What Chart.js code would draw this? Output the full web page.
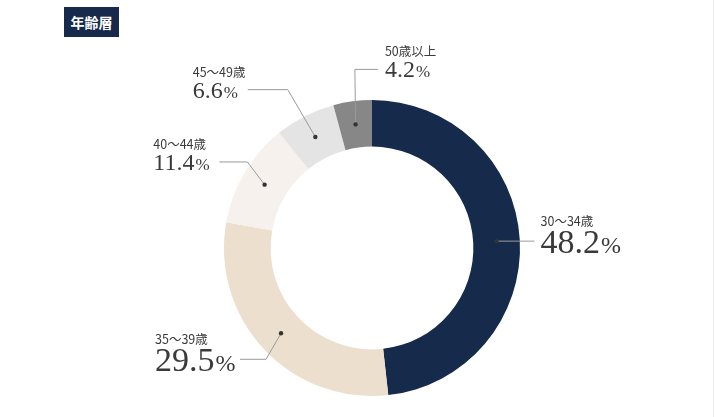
<!DOCTYPE html>
<html lang="ja">
<head>
<meta charset="utf-8">
<script src="https://cdn.jsdelivr.net/npm/chart.js@4.4.1/dist/chart.umd.min.js"></script>
<style>
  html, body { margin: 0; padding: 0; background: #fff; }
  #wrap { position: relative; width: 715px; height: 417px; overflow: hidden; }
  #edge { position: absolute; left: 713px; top: 0; width: 1px; height: 417px; background: #ececec; }
  #title {
    position: absolute; left: 64px; top: 7px; width: 55px; height: 30px;
    background: #172a4b; color: #fff; font: bold 14px "Noto Sans CJK JP", sans-serif;
    line-height: 30px; text-align: center;
  }
  canvas { position: absolute; left: 0; top: 0; }
</style>
</head>
<body>
<div id="wrap">
  <canvas id="ageChart" width="715" height="417"></canvas>
  <div id="title">年齢層</div>
  <div id="edge"></div>
</div>
<script>
// age groups, clockwise from 12 o'clock
const ageLabels = ['30～34歳', '35～39歳', '40～44歳', '45～49歳', '50歳以上'];
const ageShares = [48.2, 29.5, 11.4, 6.6, 4.2];
const ageColors = ['#162a4b', '#ecdfce', '#f6f1ec', '#e4e4e4', '#878787'];

// leader line layout for each label: elbow and end offsets from the dot
const callouts = [
  { elbow: [0, 0],         end: 38,  textDx: 6,   big: true },
  { elbow: [-15, 26],      end: -26, textDx: -85, big: true },
  { elbow: [-17.3, -22.7], end: -28, textDx: -66, big: false },
  { elbow: [-27.6, -47.3], end: -40, textDx: -55, big: false },
  { elbow: [-0.7, -55],    end: 23,  textDx: 7,   big: false }
];

const calloutPlugin = {
  id: 'callouts',
  afterDraw(chart) {
    const ctx = chart.ctx;
    const arcs = chart.getDatasetMeta(0).data;
    arcs.forEach((arc, i) => {
      const c = callouts[i];
      const p = arc.tooltipPosition();
      const ex = p.x + c.elbow[0], ey = p.y + c.elbow[1];
      const fx = ex + c.end;
      ctx.save();
      ctx.strokeStyle = '#9a9a9a';
      ctx.lineWidth = 1;
      ctx.beginPath();
      ctx.moveTo(p.x, p.y);
      ctx.lineTo(ex, ey);
      ctx.lineTo(fx, ey);
      ctx.stroke();
      ctx.fillStyle = '#333';
      ctx.beginPath();
      ctx.arc(p.x, p.y, 2.2, 0, Math.PI * 2);
      ctx.fill();

      const tx = (c.end > 0 ? fx : ex + c.end) + c.textDx;
      const numSize = c.big ? 34 : 24;
      const pctSize = c.big ? 24 : 17;
      const numBase = ey + (c.big ? 12 : 8);
      const labBase = numBase - (c.big ? 27 : 21);
      ctx.textAlign = 'left';
      ctx.textBaseline = 'alphabetic';
      ctx.fillStyle = '#3a3a3a';
      ctx.font = '12.5px "Noto Sans CJK JP", sans-serif';
      ctx.fillText(ageLabels[i], tx, labBase);
      ctx.font = numSize + 'px "Liberation Serif", serif';
      const num = ageShares[i].toFixed(1);
      ctx.fillText(num, tx, numBase);
      const w = ctx.measureText(num).width;
      ctx.font = pctSize + 'px "Liberation Serif", serif';
      ctx.fillText('%', tx + w + 1, numBase);
      ctx.restore();
    });
  }
};

const config = {
  type: 'doughnut',
  data: {
    labels: ageLabels,
    datasets: [{
      data: ageShares,
      backgroundColor: ageColors,
      borderWidth: 0
    }]
  },
  options: {
    responsive: false,
    animation: false,
    cutout: '68.5%',
    layout: { padding: { left: 224, right: 195, top: 100, bottom: 21 } },
    plugins: {
      legend: { display: false },
      tooltip: { enabled: false }
    }
  },
  plugins: [calloutPlugin]
};

const ctx = document.getElementById('ageChart').getContext('2d');
const ageChart = new Chart(ctx, config);
</script>
</body>
</html>
